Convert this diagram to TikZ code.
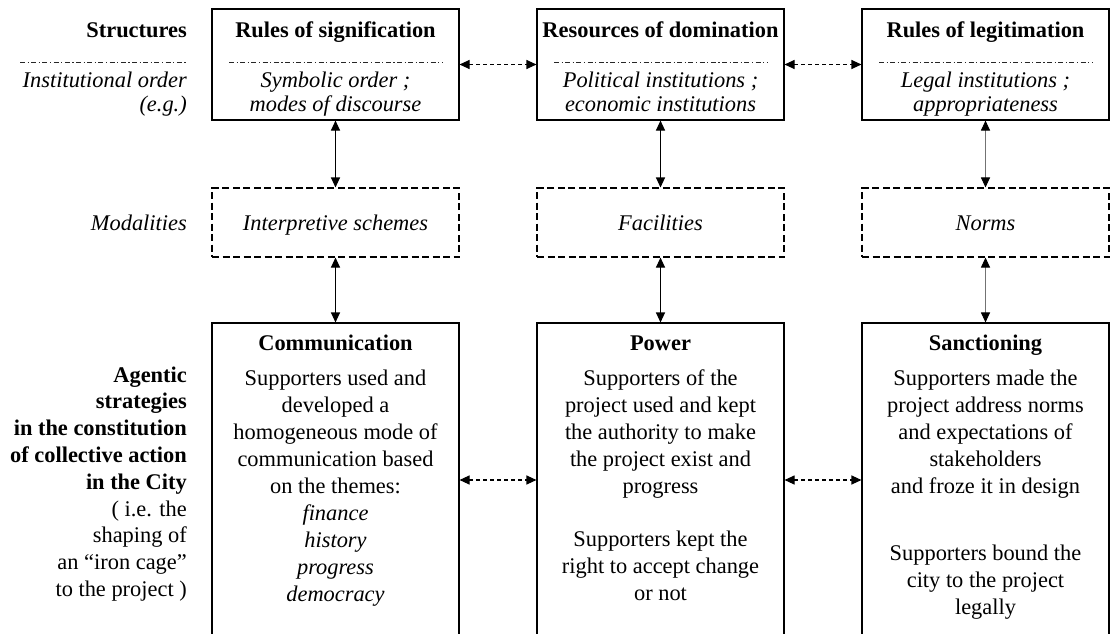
\documentclass[tikz,border=0pt]{standalone}
\usepackage{fontspec}
\setmainfont{Liberation Serif}
\usetikzlibrary{arrows.meta}
\newcommand{\Lines}[2]{\begin{tabular}[t]{@{}#1@{}}#2\end{tabular}}
\tikzset{
  box/.style={draw=black, line width=1.1pt, minimum width=247pt, inner sep=0pt},
  topbox/.style={box, minimum height=111pt},
  modbox/.style={box, dash pattern=on 7pt off 3.5pt, minimum height=69pt},
  actbox/.style={box, minimum height=314pt},
  txt/.style={inner sep=0pt, anchor=base, font=\fontsize{22.4}{27}\selectfont},
  ital/.style={font=\fontsize{22.4}{24}\selectfont\itshape},
  sep/.style={line width=0.9pt, draw=black!85, dash pattern=on 5pt off 2.5pt on 1.2pt off 2.5pt},
  tip/.tip={Triangle[length=10pt,width=9pt]},
  biarrow/.style={line width=1.1pt, tip-tip},
  biarrowgray/.style={line width=1pt, draw=black!55, {Triangle[length=10pt,width=9pt,color=black]}-{Triangle[length=10pt,width=9pt,color=black]}},
  dasharrow/.style={biarrow, dash pattern=on 4pt off 3pt},
}
\begin{document}
\begin{tikzpicture}[x=1pt,y=-1pt]
\useasboundingbox (0,0) rectangle (1111,634);
\clip (0,0) rectangle (1111,634);

% boxes
\node[topbox] (s1) at (335.5,64.5) {};
\node[topbox] (s2) at (660.5,64.5) {};
\node[topbox] (s3) at (985.5,64.5) {};
\node[modbox] (m1) at (335.5,222.5) {};
\node[modbox] (m2) at (660.5,222.5) {};
\node[modbox] (m3) at (985.5,222.5) {};
\node[actbox] (b1) at (335.5,480) {};
\node[actbox] (b2) at (660.5,480) {};
\node[actbox] (b3) at (985.5,480) {};

% left labels
\node[txt, anchor=base east] (lstruct) at (187,38) {\textbf{Structures}};
\draw[sep] (20,62) -- (187,62);
\node[txt, ital, anchor=base east] (linst) at (187,88) {\Lines{r}{Institutional order\\ (e.g.)}};
\node[txt, ital, anchor=base east] (lmod) at (187,230) {Modalities};
\node[txt, anchor=base east, font=\fontsize{22.4}{26.8}\selectfont] (lag) at (187,382)
  {\Lines{r}{\textbf{Agentic}\\ \textbf{strategies}\\ \textbf{in the constitution}\\ \textbf{of collective action}\\ \textbf{in the City}\\ ( i.e. the\\ shaping of\\ an “iron cage”\\ to the project )}};

% top box texts
\node[txt] (t1) at (335.5,38) {\textbf{Rules of signification}};
\draw[sep] (229,62) -- (443,62);
\node[txt, ital] (i1) at (335.5,88) {\Lines{c}{Symbolic order ;\\ modes of discourse}};
\node[txt] (t2) at (660.5,38) {\textbf{Resources of domination}};
\draw[sep] (554,62) -- (767,62);
\node[txt, ital] (i2) at (660.5,88) {\Lines{c}{Political institutions ;\\ economic institutions}};
\node[txt] (t3) at (985.5,38) {\textbf{Rules of legitimation}};
\draw[sep] (879,62) -- (1093,62);
\node[txt, ital] (i3) at (985.5,88) {\Lines{c}{Legal institutions ;\\ appropriateness}};

% modality texts
\node[txt, ital] (mt1) at (335.5,230) {Interpretive schemes};
\node[txt, ital] (mt2) at (660.5,230) {Facilities};
\node[txt, ital] (mt3) at (985.5,230) {Norms};

% agentic texts
\node[txt] (c1) at (335.5,350) {\Lines{c}{\textbf{Communication}\\[8pt] Supporters used and\\ developed a\\ homogeneous mode of\\ communication based\\ on the themes:\\ \textit{finance}\\ \textit{history}\\ \textit{progress}\\ \textit{democracy}}};
\node[txt] (c2) at (660.5,350) {\Lines{c}{\textbf{Power}\\[8pt] Supporters of the\\ project used and kept\\ the authority to make\\ the project exist and\\ progress\\[26pt] Supporters kept the\\ right to accept change\\ or not}};
\node[txt] (c3) at (985.5,350) {\Lines{c}{\textbf{Sanctioning}\\[8pt] Supporters made the\\ project address norms\\ and expectations of\\ stakeholders\\ and froze it in design\\[40pt] Supporters bound the\\ city to the project\\ legally}};

% connectors
\draw[biarrow] (s1) -- (m1);
\draw[biarrow] (m1) -- (b1);
\draw[biarrow] (s2) -- (m2);
\draw[biarrow] (m2) -- (b2);
\draw[biarrowgray] (s3) -- (m3);
\draw[biarrowgray] (m3) -- (b3);
\draw[dasharrow] (s1) -- (s2);
\draw[dasharrow] (s2) -- (s3);
\draw[dasharrow] (b1) -- (b2);
\draw[dasharrow] (b2) -- (b3);
\end{tikzpicture}
\end{document}
